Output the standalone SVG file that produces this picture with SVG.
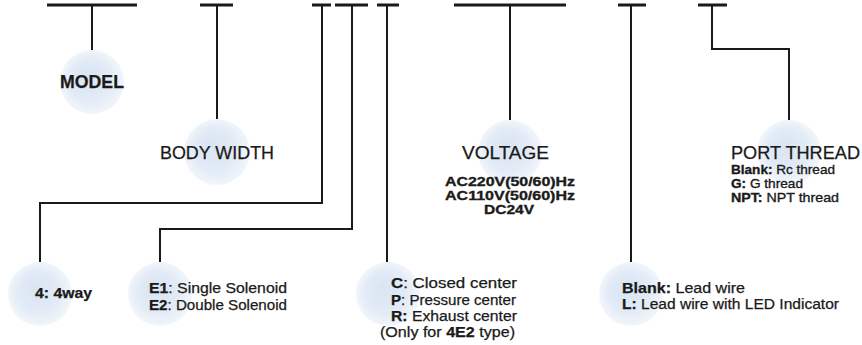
<svg xmlns="http://www.w3.org/2000/svg" width="862" height="345" viewBox="0 0 862 345">
<style>
.bar{stroke:#1a1a1a;stroke-width:3;fill:none}
.ln{stroke:#1a1a1a;stroke-width:2;fill:none}
.ball{fill:url(#g)}
text{font-family:"Liberation Sans",Arial,sans-serif;fill:#1a1a1a;stroke:#1a1a1a;stroke-width:0.25}
.h{font-size:18px}
.s{font-size:14px}
.v{font-size:13px;stroke-width:0.35}
.b{font-weight:bold}
</style>
<defs>
<radialGradient id="g" cx="50%" cy="50%" r="50%" fx="42%" fy="40%">
<stop offset="0" stop-color="#d9e5f3"/>
<stop offset="0.65" stop-color="#e2ebf6"/>
<stop offset="1" stop-color="#f2f6fb"/>
</radialGradient>
</defs>
<rect width="862" height="345" fill="#fff"/>
<g id="connectors">
<path class="bar" d="M47 5H137M200 5H233M312 5H331M335 5H368M377 5H399M454 5H566M618 5H646M698 5H727"/>
<path class="ln" d="M92 5V50"/>
<path class="ln" d="M217 5V119"/>
<path class="ln" d="M322 5V203H40V262"/>
<path class="ln" d="M352 5V229H160V262"/>
<path class="ln" d="M387 5V262"/>
<path class="ln" d="M510 5V120"/>
<path class="ln" d="M631 5V262"/>
<path class="ln" d="M712 5V49H789V120"/>
</g>
<g id="model">
<circle class="ball" cx="92" cy="82" r="32"/>
<text class="h b" x="92" y="88" text-anchor="middle" textLength="64" lengthAdjust="spacingAndGlyphs">MODEL</text>
</g>
<g id="body-width">
<circle class="ball" cx="217" cy="152" r="33"/>
<text class="h" x="160" y="159" textLength="114" lengthAdjust="spacingAndGlyphs">BODY WIDTH</text>
</g>
<g id="voltage">
<circle class="ball" cx="510" cy="152" r="32"/>
<text class="h" x="462" y="159" textLength="87" lengthAdjust="spacingAndGlyphs">VOLTAGE</text>
<text class="v b" x="445" y="186" textLength="130" lengthAdjust="spacingAndGlyphs">AC220V(50/60)Hz</text>
<text class="v b" x="445" y="200" textLength="130" lengthAdjust="spacingAndGlyphs">AC110V(50/60)Hz</text>
<text class="v b" x="484" y="214" textLength="50" lengthAdjust="spacingAndGlyphs">DC24V</text>
</g>
<g id="port-thread">
<circle class="ball" cx="789" cy="152" r="32"/>
<text class="h" x="731" y="159" textLength="129" lengthAdjust="spacingAndGlyphs">PORT THREAD</text>
<text class="v" x="731" y="174" textLength="104" lengthAdjust="spacingAndGlyphs"><tspan class="b">Blank:</tspan> Rc thread</text>
<text class="v" x="731" y="188" textLength="72" lengthAdjust="spacingAndGlyphs"><tspan class="b">G:</tspan> G thread</text>
<text class="v" x="731" y="202" textLength="108" lengthAdjust="spacingAndGlyphs"><tspan class="b">NPT:</tspan> NPT thread</text>
</g>
<g id="way">
<circle class="ball" cx="40" cy="294" r="32"/>
<text class="s b" x="35" y="298" textLength="57" lengthAdjust="spacingAndGlyphs">4: 4way</text>
</g>
<g id="solenoid">
<circle class="ball" cx="160" cy="294" r="32"/>
<text class="s" x="149" y="293" textLength="138" lengthAdjust="spacingAndGlyphs"><tspan class="b">E1</tspan>: Single Solenoid</text>
<text class="s" x="149" y="310" textLength="138" lengthAdjust="spacingAndGlyphs"><tspan class="b">E2</tspan>: Double Solenoid</text>
</g>
<g id="center">
<circle class="ball" cx="388" cy="294" r="32"/>
<text class="s" x="391" y="288" textLength="126" lengthAdjust="spacingAndGlyphs"><tspan class="b">C</tspan>: Closed center</text>
<text class="s" x="391" y="305" textLength="125" lengthAdjust="spacingAndGlyphs"><tspan class="b">P</tspan>: Pressure center</text>
<text class="s" x="391" y="321" textLength="126" lengthAdjust="spacingAndGlyphs"><tspan class="b">R:</tspan> Exhaust center</text>
<text class="s" x="380" y="337" textLength="135" lengthAdjust="spacingAndGlyphs">(Only for <tspan class="b">4E2</tspan> type)</text>
</g>
<g id="lead-wire">
<circle class="ball" cx="631" cy="294" r="32"/>
<text class="s" x="622" y="293" textLength="123" lengthAdjust="spacingAndGlyphs"><tspan class="b">Blank:</tspan> Lead wire</text>
<text class="s" x="622" y="309" textLength="217" lengthAdjust="spacingAndGlyphs"><tspan class="b">L:</tspan> Lead wire with LED Indicator</text>
</g>
</svg>
